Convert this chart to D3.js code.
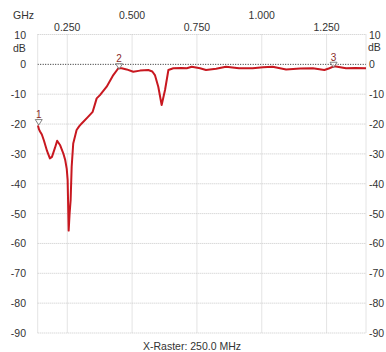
<!DOCTYPE html>
<html>
<head>
<meta charset="utf-8">
<script src="https://cdn.jsdelivr.net/npm/d3@7"></script>
<style>
  html, body { margin: 0; padding: 0; background: #fff; }
  svg text { font-family: "Liberation Sans", Arial, sans-serif; font-size: 10.5px; fill: #333; }
</style>
</head>
<body>
<svg id="chart" width="386" height="352"></svg>
<script>
// Sweep: frequency (GHz) and level (dB)
const freqGHz = [0.137, 0.141, 0.145, 0.152, 0.160, 0.172, 0.183, 0.191, 0.2025, 0.211, 0.222, 0.2346, 0.242, 0.248,
  0.2515, 0.2554, 0.259, 0.263, 0.267, 0.273, 0.286, 0.2956, 0.3056, 0.331, 0.348, 0.358, 0.3634, 0.376, 0.402, 0.4275,
  0.447, 0.46, 0.479, 0.5046, 0.5305, 0.5625, 0.578, 0.588, 0.601, 0.614, 0.627, 0.640, 0.659, 0.690, 0.711, 0.73, 0.762,
  0.785, 0.824, 0.862, 0.9125, 0.965, 1.005, 1.042, 1.094, 1.148, 1.197, 1.2415, 1.261, 1.28, 1.325, 1.36, 1.402];
const levelDb = [-20.5, -21.8, -22.5, -23.5, -25.5, -29.0, -31.5, -31.0, -28.0, -25.6, -27.0, -29.8, -32.0, -35.0,
  -38.8, -55.7, -50.0, -45.5, -34.3, -26.5, -22.0, -20.8, -19.8, -17.5, -15.9, -13.0, -11.4, -10.3, -7.5, -3.6,
  -1.3, -1.3, -1.7, -2.5, -2.1, -1.9, -2.4, -3.6, -7.5, -13.6, -8.6, -1.9, -1.3, -1.2, -1.3, -0.8, -1.3,
  -1.9, -1.5, -0.8, -1.3, -1.3, -1.0, -0.8, -1.7, -1.4, -1.3, -1.9, -1.3, -0.6, -1.3, -1.2, -1.3];

// Frequency ticks (upper row / lower row alternate) and level ticks
const freqTicksHigh = [0.5, 1.0];
const freqTicksLow = [0.25, 0.75, 1.25];
const levelTicks = [10, 0, -10, -20, -30, -40, -50, -60, -70, -80, -90];

// Markers
const markerIds = ["1", "2", "3"];
const markerFreq = [0.140, 0.450, 1.277];
const markerDb = [-20.0, -1.3, -0.8];

const svg = d3.select("#chart");
const x = d3.scaleLinear().domain([0.136, 1.402]).range([37.7, 366]);
const y = d3.scaleLinear().domain([10, -90]).range([34.5, 333]);

const grid = svg.append("g");
// horizontal grid
grid.selectAll("line.h").data(levelTicks).join("line")
  .attr("x1", x.range()[0]).attr("x2", x.range()[1])
  .attr("y1", d => y(d)).attr("y2", d => y(d))
  .attr("stroke", d => d === 0 ? "#222" : "#c8c8c8")
  .attr("stroke-width", 1)
  .attr("stroke-dasharray", d => d === 0 ? "1,1.5" : "1,1");
// vertical grid and frame sides
const vLines = [x.domain()[0], ...freqTicksLow, ...freqTicksHigh, x.domain()[1]];
grid.selectAll("line.v").data(vLines).join("line")
  .attr("x1", d => x(d)).attr("x2", d => x(d))
  .attr("y1", y(10)).attr("y2", y(-90))
  .attr("stroke", "#c8c8c8").attr("stroke-width", 1).attr("stroke-dasharray", "1,1");

// axis labels
const fmt = d3.format(".3f");
svg.append("g").selectAll("text").data(freqTicksHigh).join("text")
  .attr("x", d => x(d)).attr("y", 19).attr("text-anchor", "middle").text(fmt);
svg.append("g").selectAll("text").data(freqTicksLow).join("text")
  .attr("x", d => x(d)).attr("y", 31).attr("text-anchor", "middle").text(fmt);
svg.append("text").attr("x", 13).attr("y", 19).text("GHz");

svg.append("g").selectAll("text").data(levelTicks).join("text")
  .attr("x", 26).attr("y", d => y(d) + 4).attr("text-anchor", "end").text(d => d);
svg.append("g").selectAll("text").data(levelTicks).join("text")
  .attr("x", 369).attr("y", d => y(d) + 4).attr("text-anchor", "start").text(d => d);
svg.append("text").attr("x", 13).attr("y", 52).text("dB");
svg.append("text").attr("x", 368).attr("y", 51).text("dB");

svg.append("text").attr("x", 192).attr("y", 350).attr("text-anchor", "middle").text("X-Raster: 250.0 MHz");

// trace
const pts = freqGHz.map((f, i) => [f, levelDb[i]]);
svg.append("path").datum(pts)
  .attr("fill", "none").attr("stroke", "#c81820").attr("stroke-width", 2)
  .attr("stroke-linejoin", "round")
  .attr("d", d3.line().x(d => x(d[0])).y(d => y(d[1])));

// markers: hollow triangle on the trace with the number above
const mk = svg.append("g").selectAll("g").data(markerIds).join("g")
  .attr("transform", (d, i) => `translate(${x(markerFreq[i])},${y(markerDb[i])})`);
mk.append("path").attr("d", "M-3.5,-4.5 L3.5,-4.5 L0,1 Z")
  .attr("fill", "#fff").attr("fill-opacity", 0.6).attr("stroke", "#666").attr("stroke-width", 0.8);
mk.append("text").attr("x", 0).attr("y", -6).attr("text-anchor", "middle")
  .style("fill", "#8a2a2a").style("font-size", "10px").text(d => d);
</script>
</body>
</html>
